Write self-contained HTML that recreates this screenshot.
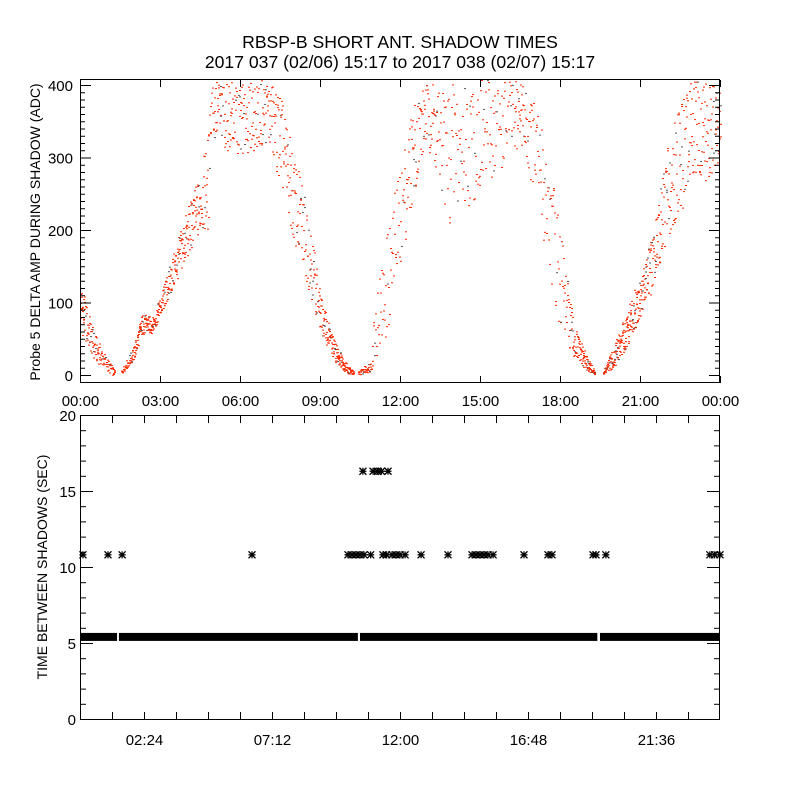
<!DOCTYPE html>
<html><head><meta charset="utf-8">
<style>
html,body{margin:0;padding:0;background:#fff;}
svg{display:block;font-family:"Liberation Sans",sans-serif;}
text{fill:#000;}
</style></head>
<body>
<svg id="chart" width="800" height="800" viewBox="0 0 800 800" xmlns="http://www.w3.org/2000/svg">
<rect width="800" height="800" fill="#fff"/>
<text x="400" y="48" font-size="17.6" text-anchor="middle">RBSP-B SHORT ANT. SHADOW TIMES</text>
<text x="400" y="68" font-size="17.6" text-anchor="middle">2017 037 (02/06) 15:17 to 2017 038 (02/07) 15:17</text>
<g id="topG"></g>
<g id="botG"></g>
<text transform="translate(40,232) rotate(-90)" font-size="14" text-anchor="middle">Probe 5 DELTA AMP DURING SHADOW (ADC)</text>
<text transform="translate(47,567) rotate(-90)" font-size="14" text-anchor="middle">TIME BETWEEN SHADOWS (SEC)</text>
</svg>
<script>
// ---- top chart data: band envelope knots (hours, low ADC, high ADC, density) ; NaN = gap
const ampHours = [0, 0.5, 0.9, 1.15, 1.3, 1.45, 1.5, 2.0, 2.3, 2.7, 3.0, 3.5, 4.0, 4.5, 4.8, 4.9, 5.0, 6.0, 7.0, 7.5, 8.0, 8.5, 9.0, 9.5, 10.0, 10.25, 10.33, 10.4, 10.9, 11.0, 11.5, 12.0, 12.5, 13.0, 13.8, 14.5, 15.0, 16.0, 16.5, 17.0, 17.5, 18.0, 18.5, 19.0, 19.3, 19.45, 19.6, 20.0, 20.5, 21.0, 21.5, 22.0, 22.5, 23.0, 23.5, 24.0];
const ampLow =   [60, 20, 10, 0, 0, NaN, 0, 20, 55, 58, 80, 120, 160, 195, 200, 370, 320, 300, 320, 260, 180, 125, 60, 20, 2, 0, NaN, 0, 5, 20, 50, 150, 250, 320, 200, 230, 250, 290, 320, 250, 150, 60, 20, 5, 0, NaN, 0, 10, 40, 80, 120, 190, 220, 280, 260, 300];
const ampHigh =  [130, 60, 30, 15, 5, NaN, 5, 40, 85, 80, 110, 170, 230, 280, 340, 410, 410, 410, 410, 390, 300, 250, 110, 50, 15, 5, NaN, 5, 20, 100, 200, 300, 380, 410, 410, 410, 410, 410, 410, 380, 330, 200, 70, 25, 5, NaN, 5, 40, 90, 140, 200, 320, 380, 410, 410, 400];
const ampDensity=[4, 4, 3, 3, 3, NaN, 3, 4, 5, 5, 4, 4, 4, 4, 3, 2, 3, 3, 3, 3, 3, 3, 4, 5, 5, 4, NaN, 3, 3, 2, 2, 2, 3, 3, 2, 2, 2, 2, 3, 2, 2, 2, 4, 5, 4, NaN, 4, 5, 5, 5, 4, 3, 3, 3, 3, 3];
const ampTicks = [0, 100, 200, 300, 400];
const topTimeLabels = ["00:00","03:00","06:00","09:00","12:00","15:00","18:00","21:00","00:00"];
// ---- bottom chart data
const bandSegments = [[0, 1.39], [1.46, 10.42], [10.5, 19.4], [19.5, 24]];
const bandValue = 5.4;
const starHours10 = [0.11, 1.05, 1.58, 6.45, 10.05, 10.2, 10.35, 10.5, 10.65, 10.9, 11.36, 11.5, 11.7, 11.85, 12.0, 12.19, 12.79, 13.8, 14.7, 14.85, 15.0, 15.15, 15.3, 15.49, 16.65, 17.55, 17.7, 19.24, 19.35, 19.72, 23.62, 23.8, 24.0];
const starValue10 = 10.8;
const starHours16 = [10.61, 10.99, 11.15, 11.3, 11.55];
const starValue16 = 16.3;
const secTicks = [0, 5, 10, 15, 20];
const botTimeLabels = ["02:24","07:12","12:00","16:48","21:36"];

const NS = "http://www.w3.org/2000/svg";
function mk(tag, attrs, parent){const e=document.createElementNS(NS,tag);for(const k in attrs)e.setAttribute(k,attrs[k]);parent.appendChild(e);return e;}
const X0=80, X1=720;
const xh = h => X0 + (X1-X0)*h/24;
const yTop = v => 375 - v*290/400;
const yBot = v => 719 - v*(719-415)/20;
function hashFrac(n){const s=Math.sin(n*12.9898+78.233)*43758.5453;return s-Math.floor(s);}

// ---------- TOP ----------
const topG=document.getElementById('topG');
const tdots=mk('g',{},topG);


let acc=0, kk=0, cnt=0;
for(let px=X0; px<=X1; px++){
  const h=(px-X0)*24/(X1-X0);
  while(kk<ampHours.length-2 && ampHours[kk+1]<h) kk++;
  const a=kk,b=kk+1;
  if(isNaN(ampLow[a])||isNaN(ampLow[b])) continue;
  const t=(h-ampHours[a])/(ampHours[b]-ampHours[a]);
  const lo=ampLow[a]+(ampLow[b]-ampLow[a])*t;
  const hi=ampHigh[a]+(ampHigh[b]-ampHigh[a])*t;
  const d=ampDensity[a]+(ampDensity[b]-ampDensity[a])*t;
  acc+=d;
  while(acc>=1){
    acc-=1;
    cnt++;
    const f=hashFrac(cnt);
    const v=lo+(hi-lo)*f;
    const y=yTop(v);
    if(y<80||y>382) continue;
    mk('rect',{x:px,y:y.toFixed(1),width:2,height:1,fill:(hashFrac(cnt+5000)<0.1)?'#555':'#ff2800'},tdots);
  }
}
const tf=mk('rect',{x:80.5,y:79.5,width:639,height:303,fill:'none',stroke:'#000','stroke-width':1},topG);


for(let v=0; v<=400; v+=10){
  const y=yTop(v)+0.5, L=(v%100===0)?11:5;
  mk('line',{x1:80,y1:y,x2:80+L,y2:y,stroke:'#000'},topG);
  mk('line',{x1:720,y1:y,x2:720-L,y2:y,stroke:'#000'},topG);
}
ampTicks.forEach(v=>{
  const t=mk('text',{x:73,y:yTop(v)+6,'font-size':15,'text-anchor':'end'},topG);
  t.textContent=v;
  
  
});
topTimeLabels.forEach((s,i)=>{
  const x=xh(i*3)+0.5;
  mk('line',{x1:x,y1:383,x2:x,y2:376,stroke:'#000'},topG);
  mk('line',{x1:x,y1:80,x2:x,y2:87,stroke:'#000'},topG);
  const t=mk('text',{x:x,y:406,'font-size':15,'text-anchor':'middle'},topG);
  t.textContent=s;
  
  
});

// ---------- BOTTOM ----------
const botG=document.getElementById('botG');
const by=yBot(bandValue);
bandSegments.forEach(s=>{
  const r=mk('rect',{x:xh(s[0]),y:by-4,width:xh(s[1])-xh(s[0]),height:8,fill:'#000'},botG);
  
  
});
function star(h,v){
  const x=xh(h), y=yBot(v), r=3.5;
  const g=mk('g',{stroke:'#000','stroke-width':1.3},botG);
  
  
  mk('line',{x1:x-r,y1:y,x2:x+r,y2:y},g);
  mk('line',{x1:x,y1:y-r,x2:x,y2:y+r},g);
  mk('line',{x1:x-r,y1:y-r,x2:x+r,y2:y+r},g);
  mk('line',{x1:x-r,y1:y+r,x2:x+r,y2:y-r},g);
}
starHours10.forEach(h=>star(h,starValue10));
starHours16.forEach(h=>star(h,starValue16));
const bf=mk('rect',{x:80.5,y:415.5,width:639,height:304,fill:'none',stroke:'#000'},botG);


for(let v=0; v<=20; v++){
  const y=yBot(v)+0.5, L=(v%5===0)?13:6;
  mk('line',{x1:80,y1:y,x2:80+L,y2:y,stroke:'#000'},botG);
  mk('line',{x1:720,y1:y,x2:720-L,y2:y,stroke:'#000'},botG);
}
secTicks.forEach(v=>{
  const t=mk('text',{x:76,y:yBot(v)+6,'font-size':15,'text-anchor':'end'},botG);
  t.textContent=v;
  
  
});
for(let i=1;i<20;i++){
  const x=xh(i*1.2)+0.5;
  mk('line',{x1:x,y1:719,x2:x,y2:712,stroke:'#000'},botG);
  mk('line',{x1:x,y1:416,x2:x,y2:423,stroke:'#000'},botG);
}
botTimeLabels.forEach((s,i)=>{
  const t=mk('text',{x:xh(2.4+i*4.8)+0.5,y:745,'font-size':15,'text-anchor':'middle'},botG);
  t.textContent=s;
  
  
});
</script>
</body></html>
